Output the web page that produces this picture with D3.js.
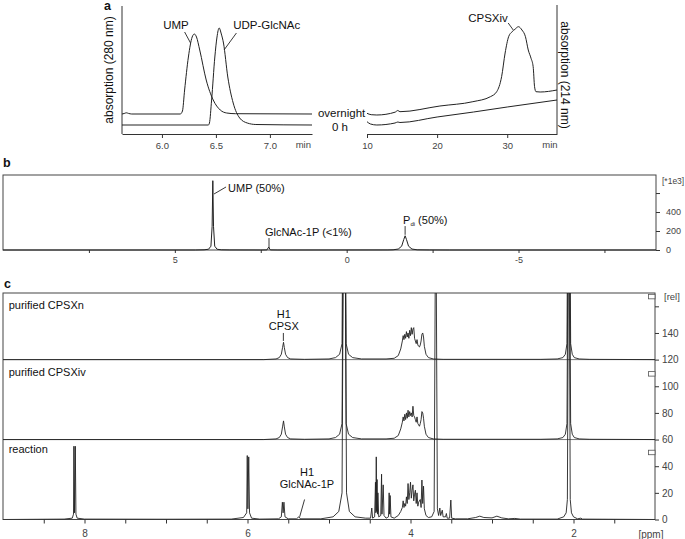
<!DOCTYPE html>
<html><head><meta charset="utf-8">
<script src="https://cdn.jsdelivr.net/npm/d3@7"></script>
<style>
body{margin:0;background:#fff}
svg{display:block;font-family:Arial,"Liberation Sans",Helvetica,sans-serif}
</style></head><body>
<svg id="fig" width="685" height="539"></svg>
<script>
// ---------------- DATA ----------------
// Panel a, left: HPLC 280 nm (time [min], absorbance [a.u.])
const hplc280Overnight = [[5.63,20],[5.65,20.5],[5.67,21.2],[5.69,20.6],[5.72,20],[6.17,20],[6.19,23],[6.21,44],[6.245,77],[6.28,97],[6.30,100],[6.32,97],[6.35,84],[6.41,54],[6.475,34],[6.54,24],[6.60,21],[6.68,20.3],[7.39,20]];
const hplc280ZeroH = [[5.63,9],[6.43,9],[6.44,11],[6.46,34],[6.49,77],[6.51,97],[6.53,106],[6.55,100],[6.57,91],[6.61,57],[6.66,31],[6.72,16],[6.79,11],[6.87,9.5],[7.39,9]];
// Panel a, right: HPLC 214 nm
const hplc214Overnight = [[10,20.7],[10.6,19.3],[11.4,19],[14.0,21.8],[14.4,23.5],[14.7,22.3],[20.4,28],[25.1,32.3],[27.6,37.3],[28.5,42.3],[29.2,57.3],[29.7,81],[30.2,97.3],[30.7,102.3],[31.1,104.7],[31.6,107.3],[32.1,104],[32.6,97.3],[33.0,84],[33.4,75.7],[33.7,67.3],[33.9,47.3],[34.1,42.3],[34.7,42],[37.1,44]];
const hplc214ZeroH = [[10,12.3],[10.5,10],[11.4,9],[14.0,11],[14.4,12],[14.7,11.5],[20,17],[25.2,22],[30,27],[37.1,34]];
const aLeftTicks = [6.0,6.5,7.0];
const aRightTicks = [10,20,30];
const aLabels = ["UMP","UDP-GlcNAc","CPSXiv","overnight","0 h","absorption (280 nm)","absorption (214 nm)","min"];

// Panel b: 31P NMR (ppm, intensity *1e3)
const p31Spectrum = [[10,0],[4.4,0],[4.15,2],[4.02,8],[3.95,40],[3.915,250],[3.895,730],[3.875,250],[3.84,40],[3.77,8],[3.65,2],[3.4,0.5],[2.5,0],[2.32,1],[2.27,30],[2.22,1],[2.0,0],[-1.2,0.5],[-1.35,2],[-1.5,10],[-1.6,40],[-1.66,110],[-1.70,150],[-1.74,110],[-1.80,40],[-1.9,10],[-2.05,2],[-2.4,0.5],[-3,0],[-9,0]];
const bXTicks = [7.5,5,2.5,0,-2.5,-5,-7.5];
const bXLabeled = [5,0,-5];
const bYTicks = [0,200,400,600];
const bYMinor = [100,300,500,700];

// Panel c: 1H NMR (ppm, relative intensity above each trace's baseline)
const hCPSXn = [[9,0],[5.8,0],[5.65,0.5],[5.61,1.5],[5.585,4],[5.57,9],[5.558,13],[5.548,9],[5.533,4],[5.508,1.5],[5.47,0.5],[5.3,0.2],[5.0,0.5],[4.92,1.5],[4.87,4],[4.84,12],[4.822,200],[4.805,200],[4.79,12],[4.76,4],[4.71,1.5],[4.6,0.5],[4.3,0.5],[4.2,1],[4.15,3],[4.12,8],[4.10,14],[4.09,18],[4.08,15],[4.07,19],[4.06,16],[4.05,21],[4.04,17],[4.03,20],[4.02,16],[4.01,22],[4.00,18],[3.99,24],[3.98,19],[3.97,23],[3.96,24],[3.95,16],[3.94,14],[3.93,12],[3.92,15],[3.91,11],[3.90,10],[3.89,9.5],[3.88,11],[3.87,14],[3.86,19],[3.85,20],[3.84,17],[3.83,10],[3.81,4],[3.78,1.5],[3.72,0.5],[3.6,0.2],[2.4,0.2],[2.2,0.5],[2.13,1.5],[2.1,4],[2.08,12],[2.064,200],[2.052,200],[2.035,12],[2.015,4],[1.99,1.5],[1.93,0.5],[1.8,0.2],[1,0]];
const hCPSXiv = [[9,0],[5.8,0],[5.65,0.5],[5.61,1.5],[5.585,4],[5.57,9.5],[5.558,14],[5.548,9.5],[5.533,4],[5.508,1.5],[5.47,0.5],[5.3,0.2],[5.0,0.5],[4.92,1.5],[4.87,4],[4.84,12],[4.822,200],[4.805,200],[4.79,12],[4.76,4],[4.71,1.5],[4.6,0.5],[4.3,0.5],[4.2,1],[4.15,3],[4.12,8],[4.10,13],[4.09,17],[4.08,14],[4.07,19],[4.06,15],[4.05,20],[4.04,16],[4.03,22],[4.02,17],[4.01,21],[4.00,18],[3.99,20],[3.98,17],[3.97,25],[3.96,18],[3.95,17],[3.94,15],[3.93,13],[3.92,17],[3.91,12],[3.90,11],[3.89,10],[3.88,12],[3.87,15],[3.86,21],[3.85,20],[3.84,16],[3.83,10],[3.81,4],[3.78,1.5],[3.72,0.5],[3.6,0.2],[2.4,0.2],[2.2,0.5],[2.13,1.5],[2.1,4],[2.08,12],[2.064,200],[2.052,200],[2.035,12],[2.015,4],[1.99,1.5],[1.93,0.5],[1.8,0.2],[1,0]];
const hReaction = [[9,0],[8.25,0.3],[8.15,1],[8.135,4],[8.13,55],[8.122,5],[8.113,55],[8.105,4],[8.09,1],[8.0,0.3],[7.0,0.2],[6.2,0.3],[6.05,1.5],[6.01,5],[6.003,48],[5.995,8],[5.985,47],[5.975,5],[5.95,1],[5.85,0.3],[5.62,0.5],[5.585,2],[5.572,13],[5.563,5],[5.553,13],[5.54,2],[5.50,0.5],[5.40,0.5],[5.37,2],[5.35,0.5],[5.1,0.5],[4.95,2],[4.88,6],[4.84,20],[4.825,200],[4.80,200],[4.785,20],[4.75,6],[4.68,2],[4.55,1],[4.49,1],[4.475,8.6],[4.465,1],[4.44,2],[4.43,28],[4.425,5],[4.42,47],[4.415,6],[4.41,30],[4.405,4],[4.40,20],[4.39,2],[4.365,3],[4.355,34],[4.35,4],[4.335,26],[4.325,3],[4.30,1],[4.27,2],[4.262,20],[4.256,4],[4.25,18],[4.24,2],[4.20,1],[4.15,3],[4.12,6],[4.10,9],[4.09,14],[4.08,9],[4.07,12],[4.06,10],[4.05,17],[4.04,12],[4.03,27],[4.02,15],[4.01,20],[4.00,28],[3.99,16],[3.98,22],[3.97,26],[3.96,14],[3.95,19],[3.94,22],[3.93,12],[3.92,20],[3.91,10],[3.90,13],[3.88,15],[3.87,9],[3.86,29.6],[3.85,12],[3.84,25],[3.83,8],[3.81,3],[3.78,1.5],[3.74,2],[3.71,6],[3.695,200],[3.685,200],[3.67,8],[3.655,3],[3.64,8.6],[3.63,3],[3.61,7],[3.60,2],[3.57,2],[3.56,4.5],[3.55,1],[3.52,1],[3.505,14.6],[3.495,1],[3.45,0.5],[3.3,0.5],[3.2,1.5],[3.15,2.5],[3.1,1.5],[3.0,1.2],[2.94,2.5],[2.88,1.2],[2.8,0.5],[2.72,0.8],[2.65,0.3],[2.2,0.3],[2.12,2],[2.09,5],[2.075,15],[2.062,200],[2.052,200],[2.04,15],[2.025,5],[2.0,2],[1.95,0.5],[1.91,1],[1.89,0.3],[1,0]];
const cTraceNames = ["purified CPSXn","purified CPSXiv","reaction"];
const cOffsets = [120,60,0];
const cXTicks = [8.5,8,7.5,7,6.5,6,5.5,5,4.5,4,3.5,3,2.5,2,1.5];
const cXLabeled = [8,6,4,2];
const cYTicks = [0,20,40,60,80,100,120,140,160];

// ---------------- DRAWING ----------------
const svg = d3.select("#fig");
const ink = "#222", axisInk = "#333", tickTxt = "#444";

function styleAxis(g, fs){
  g.select(".domain").attr("stroke", axisInk);
  g.selectAll(".tick line").attr("stroke", axisInk);
  g.selectAll(".tick text").attr("fill", tickTxt).style("font-size", fs+"px")
   .style("font-family", 'Arial,"Liberation Sans",Helvetica,sans-serif');
}
function txt(x, y, s, fs, anchor, weight){
  return svg.append("text").attr("x", x).attr("y", y).text(s)
    .attr("font-size", fs).attr("text-anchor", anchor||"start")
    .attr("font-weight", weight||"normal").attr("fill", "#111");
}
function seg(x1,y1,x2,y2){
  svg.append("line").attr("x1",x1).attr("y1",y1).attr("x2",x2).attr("y2",y2)
    .attr("stroke", ink).attr("stroke-width", 0.9);
}

// ===== Panel a =====
const yA = d3.scaleLinear().domain([0,128]).range([134,6]);
const xA1 = d3.scaleLinear().domain([5.63,7.39]).range([122,312]);
const xA2 = d3.scaleLinear().domain([10,37.1]).range([367,557]);

txt(104, 10, "a", 12.5, "start", "bold");

// left axes
svg.append("line").attr("x1",xA1.range()[0]).attr("x2",xA1.range()[0]).attr("y1",yA(128)).attr("y2",yA(0)).attr("stroke",axisInk);
const gA1 = svg.append("g").attr("transform",`translate(0,${yA(0)})`);
gA1.call(d3.axisBottom(xA1).tickValues(d3.range(5.65,7.391,0.05)).tickFormat("").tickSize(2).tickSizeOuter(0));
gA1.call(d3.axisBottom(xA1).tickValues(aLeftTicks).tickFormat(d3.format(".1f")).tickSize(4).tickSizeOuter(0).tickPadding(4));
styleAxis(gA1, 9.5);
txt(xA1(7.31), yA(0)+14, aLabels[7], 9.5, "middle").attr("fill", tickTxt);

// right axes
svg.append("line").attr("x1",xA2.range()[1]).attr("x2",xA2.range()[1]).attr("y1",yA(129)).attr("y2",yA(0)).attr("stroke",axisInk);
const gA2 = svg.append("g").attr("transform",`translate(0,${yA(0)})`);
gA2.call(d3.axisBottom(xA2).tickValues(d3.range(10,37.1,1)).tickFormat("").tickSize(2).tickSizeOuter(0));
gA2.call(d3.axisBottom(xA2).tickValues(aRightTicks).tickFormat(d3.format("d")).tickSize(4).tickSizeOuter(0).tickPadding(4));
styleAxis(gA2, 9.5);
txt(xA2(36.1), yA(0)+14, aLabels[7], 9.5, "middle").attr("fill", tickTxt);

const lineA1 = d3.line().x(d=>xA1(d[0])).y(d=>yA(d[1])).curve(d3.curveMonotoneX);
const lineA2 = d3.line().x(d=>xA2(d[0])).y(d=>yA(d[1])).curve(d3.curveMonotoneX);
[hplc280Overnight, hplc280ZeroH].forEach(s => svg.append("path").attr("d", lineA1(s)).attr("fill","none").attr("stroke",ink).attr("stroke-width",1));
[hplc214Overnight, hplc214ZeroH].forEach(s => svg.append("path").attr("d", lineA2(s)).attr("fill","none").attr("stroke",ink).attr("stroke-width",1));

// labels panel a
txt(xA1(6.13), yA(105), aLabels[0], 11.5, "middle");
seg(xA1(6.21), yA(102), xA1(6.265), yA(91));
txt(xA1(6.66), yA(105), aLabels[1], 11.5, "start");
seg(xA1(6.69), yA(101), xA1(6.575), yA(84));
txt(xA2(24.43), yA(112), aLabels[2], 11.5, "start");
seg(xA2(30.14), yA(111), xA2(30.86), yA(104));
txt(xA1(7.445), yA(17), aLabels[3], 11.5, "start");
txt(xA1(7.575), yA(3), aLabels[4], 11.5, "start");
svg.append("text").attr("transform",`translate(${xA1.range()[0]-9},${yA(64)}) rotate(-90)`)
  .attr("text-anchor","middle").attr("font-size",12).attr("fill","#111").text(aLabels[5]);
svg.append("text").attr("transform",`translate(${xA2.range()[1]+4},${yA(59)}) rotate(90)`)
  .attr("text-anchor","middle").attr("font-size",12).attr("fill","#111").text(aLabels[6]);

// ===== Panel b =====
const xB = d3.scaleLinear().domain([10,-9]).range([3,656]);
const yB = d3.scaleLinear().domain([0,790]).range([250,175]);
txt(3, 167, "b", 12.5, "start", "bold");
svg.append("rect").attr("x",xB(10)).attr("y",yB(790)).attr("width",xB(-9)-xB(10)).attr("height",yB(0)-yB(790))
  .attr("fill","none").attr("stroke","#444").attr("stroke-width",1);
const gBx = svg.append("g").attr("transform",`translate(0,${yB(0)})`);
gBx.call(d3.axisBottom(xB).tickValues(bXTicks).tickFormat(d => bXLabeled.includes(d) ? String(d) : "").tickSize(3).tickSizeOuter(0).tickPadding(4));
styleAxis(gBx, 9);
gBx.select(".domain").remove();
const gBy = svg.append("g").attr("transform",`translate(${xB(-9)},0)`);
gBy.call(d3.axisRight(yB).tickValues(bYMinor).tickFormat("").tickSize(2).tickSizeOuter(0));
gBy.call(d3.axisRight(yB).tickValues(bYTicks).tickFormat(d => d===600 ? "" : String(d)).tickSize(4).tickSizeOuter(0).tickPadding(6));
styleAxis(gBy, 9);
gBy.select(".domain").remove();
txt(xB(-9)+6, yB(690), "[*1e3]", 8.5, "start").attr("fill", tickTxt);

const lineB = d3.line().x(d=>xB(d[0])).y(d=>yB(d[1]));
svg.append("path").attr("d", lineB(p31Spectrum)).attr("fill","none").attr("stroke",ink).attr("stroke-width",1);

txt(xB(3.45), yB(610), "UMP (50%)", 11, "start");
seg(xB(3.86), yB(590), xB(3.51), yB(664));
txt(xB(2.38), yB(147), "GlcNAc-1P (<1%)", 11, "start");
seg(xB(2.26), yB(126), xB(2.26), yB(21));
const pt = txt(xB(-1.64), yB(274), "P", 11, "start");
pt.append("tspan").attr("font-size",6).attr("dy",2).text("di");
pt.append("tspan").attr("dy",-2).text(" (50%)");
seg(xB(-1.70), yB(252), xB(-1.70), yB(160));

// ===== Panel c =====
const xC = d3.scaleLinear().domain([9,1]).range([3,655]);
const yC = d3.scaleLinear().domain([0,170]).range([519.5,293]);
txt(4, 288, "c", 12.5, "start", "bold");
svg.append("defs").append("clipPath").attr("id","clipC").append("rect")
  .attr("x",xC(9)).attr("y",yC(170)).attr("width",xC(1)-xC(9)).attr("height",yC(0)-yC(170));
svg.append("rect").attr("x",xC(9)).attr("y",yC(170)).attr("width",xC(1)-xC(9)).attr("height",yC(0)-yC(170))
  .attr("fill","none").attr("stroke","#444").attr("stroke-width",1);
cOffsets.slice(0,2).forEach(o => svg.append("line").attr("x1",xC(9)).attr("x2",xC(1)).attr("y1",yC(o)).attr("y2",yC(o)).attr("stroke","#555").attr("stroke-width",0.8));

const gCx = svg.append("g").attr("transform",`translate(0,${yC(0)})`);
gCx.call(d3.axisBottom(xC).tickValues(cXTicks).tickFormat(d => cXLabeled.includes(d) ? String(d) : "").tickSize(4).tickSizeOuter(0).tickPadding(6));
styleAxis(gCx, 10);
gCx.select(".domain").remove();
txt(xC(1.05), yC(0)+18, "[ppm]", 10, "middle").attr("fill", tickTxt);
const gCy = svg.append("g").attr("transform",`translate(${xC(1)},0)`);
gCy.call(d3.axisRight(yC).tickValues(cYTicks).tickFormat(d => d===160 ? "" : String(d)).tickSize(4).tickSizeOuter(0).tickPadding(3));
styleAxis(gCy, 10);
gCy.select(".domain").remove();
txt(xC(1)+9, yC(165), "[rel]", 9.5, "start").attr("fill", tickTxt);
// small scale markers
[169, 111, 52].forEach(v => svg.append("rect").attr("x",xC(1.08)).attr("y",yC(v)).attr("width",xC(1)-xC(1.08)).attr("height",4.5)
  .attr("fill","#fff").attr("stroke","#555").attr("stroke-width",0.8));

const gSpec = svg.append("g").attr("clip-path","url(#clipC)");
[hCPSXn, hCPSXiv, hReaction].forEach((s,i) => {
  const off = cOffsets[i];
  const ln = d3.line().x(d=>xC(d[0])).y(d=>yC(d[1]+off));
  gSpec.append("path").attr("d", ln(s)).attr("fill","none").attr("stroke",ink).attr("stroke-width",0.9);
});
const nameLift = [38, 48, 50];
cTraceNames.forEach((n,i) => txt(xC(8.93), yC(cOffsets[i] + nameLift[i]), n, 11, "start"));
txt(xC(5.555), yC(151.5), "H1", 11, "middle");
txt(xC(5.555), yC(142.5), "CPSX", 11, "middle");
seg(xC(5.56), yC(140), xC(5.56), yC(134));
txt(xC(5.27), yC(33), "H1", 11, "middle");
txt(xC(5.27), yC(24), "GlcNAc-1P", 11, "middle");
seg(xC(5.30), yC(15), xC(5.36), yC(2));
</script></body></html>
